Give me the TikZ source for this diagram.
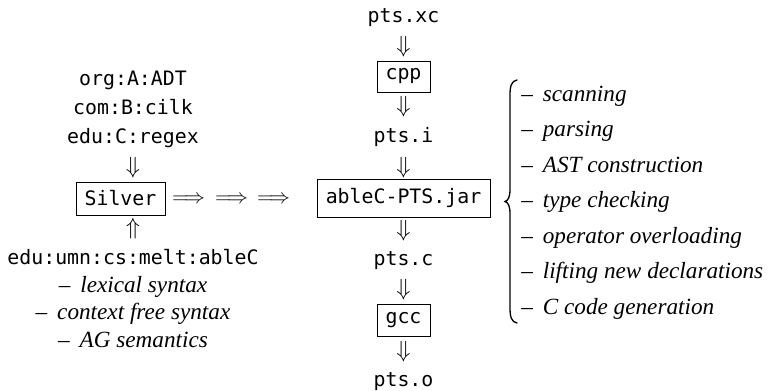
\documentclass[tikz,border=0pt]{standalone}
\usepackage{fix-cm}
\usepackage{fontspec}
\setmonofont{DejaVu Sans Mono}
\newfontfamily\itfam{Liberation Serif}
\newcommand{\dsh}{–\hspace{0.18em} }
\begin{document}
\begin{tikzpicture}[x=0.75pt,y=-0.75pt,
  mono/.style={font=\fontsize{14.9}{17}\selectfont\ttfamily, inner sep=0pt, anchor=base},
  itl/.style={font=\fontsize{17.4}{20}\selectfont\itfam\itshape, inner sep=0pt, anchor=base},
  itw/.style={itl, anchor=base west},
  arr/.style={font=\fontsize{17.5}{20}\selectfont, inner sep=0pt},
  larr/.style={font=\fontsize{15.5}{18}\selectfont, inner sep=0pt},
  stage/.style={draw, line width=0.7pt, inner sep=0pt,
    font=\fontsize{14.9}{17}\selectfont\ttfamily},
  bracestyle/.style={line width=1pt, line cap=round}]
\useasboundingbox (0,0) rectangle (770,391);
% centre column
\node[mono] (xc) at (403.5,23) {pts.xc};
\node[arr] (a1) at (403.5,47) {$\Downarrow$};
\node[stage, minimum width=39.75pt, minimum height=23.25pt] (cpp) at (403.5,76.5) {cpp};
\node[arr] (a2) at (403.5,107) {$\Downarrow$};
\node[mono] (pi) at (403.5,143) {pts.i};
\node[arr] (a3) at (403.5,168) {$\Downarrow$};
\node[stage, minimum width=129.75pt, minimum height=28.5pt] (jar) at (403.5,198) {ableC-PTS.jar};
\node[arr] (a4) at (403.5,231) {$\Downarrow$};
\node[mono] (pc) at (403.5,266) {pts.c};
\node[arr] (a5) at (403.5,290) {$\Downarrow$};
\node[stage, minimum width=39.75pt, minimum height=24pt] (gcc) at (403.5,320) {gcc};
\node[arr] (a6) at (403.5,352) {$\Downarrow$};
\node[mono] (po) at (403.5,386) {pts.o};
% left column
\node[mono] (ext1) at (133,86) {org:A:ADT};
\node[mono] (ext2) at (133,115) {com:B:cilk};
\node[mono] (ext3) at (133,144) {edu:C:regex};
\node[arr] (la1) at (133,168) {$\Downarrow$};
\node[stage, minimum width=66.75pt, minimum height=24.75pt] (silver) at (120.5,198.5) {Silver};
\node[arr] (la2) at (133,229) {$\Uparrow$};
\node[mono] (host) at (133,265) {edu:umn:cs:melt:ableC};
\node[itl] (h1) at (133,293) {\dsh lexical syntax};
\node[itl] (h2) at (133,320) {\dsh context free syntax};
\node[itl] (h3) at (133,347) {\dsh AG semantics};
% long arrows
\node[larr] (r1) at (188.5,200) {$\Longrightarrow$};
\node[larr] (r2) at (231.5,200) {$\Longrightarrow$};
\node[larr] (r3) at (273.5,200) {$\Longrightarrow$};
% brace
\coordinate (btop) at (517,80);
\coordinate (btip) at (505,201.5);
\coordinate (bbot) at (517,323);
\draw[bracestyle] (btop) .. controls (511.5,81) and (510,86) .. (510,95)
  -- (510,189) .. controls (510,196.5) and (508.5,200.5) .. (btip)
  .. controls (508.5,202.5) and (510,206.5) .. (510,214)
  -- (510,308) .. controls (510,317) and (511.5,322) .. (bbot);
% phases
\node[itw] (p1) at (521,102) {\dsh scanning};
\node[itw] (p2) at (521,137) {\dsh parsing};
\node[itw] (p3) at (521,173) {\dsh AST construction};
\node[itw] (p4) at (521,208) {\dsh type checking};
\node[itw] (p5) at (521,244) {\dsh operator overloading};
\node[itw] (p6) at (521,279) {\dsh lifting new declarations};
\node[itw] (p7) at (521,315) {\dsh C code generation};
\end{tikzpicture}
\end{document}
